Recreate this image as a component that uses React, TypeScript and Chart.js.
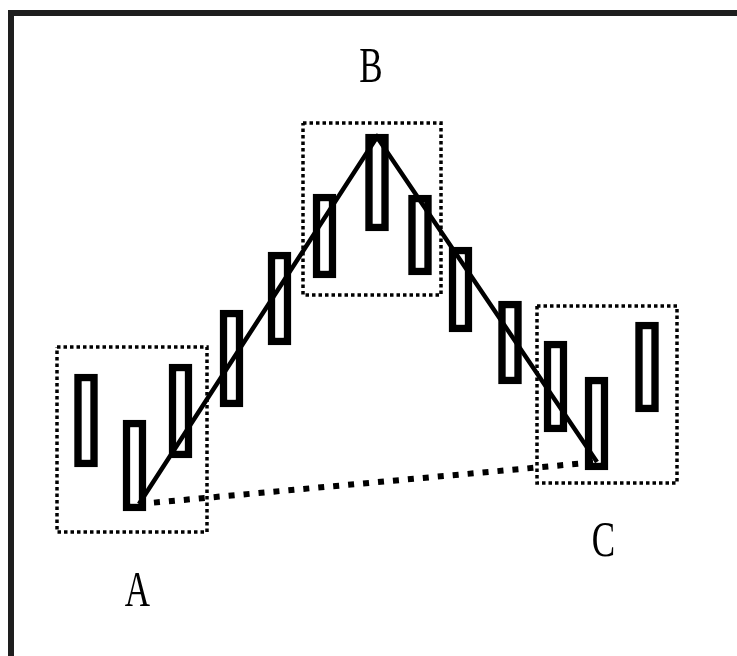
import React, { useEffect, useRef } from "react";
import { Chart, registerables } from "chart.js";

Chart.register(...registerables);

// Candle positions (time units) and price ranges
const candleX = [8.6, 13.45, 18.05, 23.15, 27.95, 32.45, 37.7, 42.0, 46.05, 51.0, 55.55, 59.65, 64.7];
const candleHigh = [28.2, 23.6, 29.2, 34.6, 40.4, 46.2, 52.2, 46.1, 40.9, 35.5, 31.5, 27.9, 33.4];
const candleLow = [18.9, 14.5, 19.8, 24.9, 31.1, 37.8, 42.5, 38.1, 32.4, 27.2, 22.4, 18.6, 24.4];

// Swing pivots A, B, C
const pivotNames = ["A", "B", "C"];
const pivotX = [13.9, 37.7, 59.7];
const pivotY = [15.2, 51.9, 19.4];

// Zones around pivots
const zoneXMin = [5.7, 30.3, 53.7];
const zoneXMax = [20.7, 44.1, 67.7];
const zoneYMin = [12.4, 36.1, 17.3];
const zoneYMax = [30.9, 53.3, 35.0];

// Label anchors
const labelX = [13.75, 37.1, 60.35];
const labelY = [5.0, 57.4, 10.0];

const X_MAX = 73.7;
const Y_MAX = 65.6;

const framePlugin = {
  id: "frame",
  afterDraw(chart: any) {
    const ctx = chart.ctx;
    ctx.save();
    ctx.fillStyle = "#1e1e1e";
    ctx.fillRect(8, 10, chart.width - 8, 6);
    ctx.fillRect(8, 10, 6, chart.height - 10);
    ctx.restore();
  },
};

const labelPlugin = {
  id: "pivotLabels",
  afterDatasetsDraw(chart: any) {
    const ctx = chart.ctx;
    const xs = chart.scales.x;
    const ys = chart.scales.y;
    ctx.save();
    ctx.fillStyle = "#000";
    ctx.font = "50px 'Liberation Serif', serif";
    ctx.textAlign = "center";
    ctx.textBaseline = "alphabetic";
    pivotNames.forEach((name, i) => {
      const px = xs.getPixelForValue(labelX[i]);
      const py = ys.getPixelForValue(labelY[i]);
      ctx.save();
      ctx.translate(px, py);
      ctx.scale(0.7, 1);
      ctx.fillText(name, 0, 0);
      ctx.restore();
    });
    ctx.restore();
  },
};

export default function App() {
  const ref = useRef<HTMLCanvasElement>(null);

  useEffect(() => {
    if (!ref.current) return;

    const candleData = candleX.map((x, i) => ({ x, y: [candleLow[i], candleHigh[i]] }));
    const swingData = pivotX.map((x, i) => ({ x, y: pivotY[i] }));
    const baseData = [
      { x: pivotX[0], y: pivotY[0] },
      { x: pivotX[2], y: pivotY[2] },
    ];
    const zoneDatasets = zoneXMin.map((x0, i) => ({
      type: "line" as const,
      label: "zone " + pivotNames[i],
      data: [
        { x: x0, y: zoneYMax[i] },
        { x: zoneXMax[i], y: zoneYMax[i] },
        { x: zoneXMax[i], y: zoneYMin[i] },
        { x: x0, y: zoneYMin[i] },
        { x: x0, y: zoneYMax[i] },
      ],
      borderColor: "#000",
      borderWidth: 3.5,
      borderDash: [3.5, 3],
      pointRadius: 0,
      tension: 0,
      fill: false,
      order: 1,
    }));

    const chart = new Chart(ref.current, {
      type: "bar",
      data: {
        datasets: [
          {
            type: "bar" as const,
            label: "candles",
            data: candleData as any,
            backgroundColor: "#fff",
            borderColor: "#000",
            borderWidth: 7.5,
            borderSkipped: false,
            barThickness: 23,
            order: 3,
          },
          ...zoneDatasets,
          {
            type: "line" as const,
            label: "A-C",
            data: baseData,
            borderColor: "#000",
            borderWidth: 6,
            borderDash: [6, 9],
            pointRadius: 0,
            tension: 0,
            fill: false,
            order: 2,
          },
          {
            type: "line" as const,
            label: "A-B-C",
            data: swingData,
            borderColor: "#000",
            borderWidth: 4.5,
            borderJoinStyle: "miter",
            pointRadius: 0,
            tension: 0,
            fill: false,
            order: 0,
          },
        ] as any,
      },
      options: {
        animation: false,
        responsive: false,
        events: [],
        layout: { padding: 0 },
        plugins: {
          legend: { display: false },
          tooltip: { enabled: false },
          title: { display: false },
        },
        scales: {
          x: { type: "linear", min: 0, max: X_MAX, display: false, offset: false },
          y: { type: "linear", min: 0, max: Y_MAX, display: false },
        },
      },
      plugins: [framePlugin, labelPlugin],
    });

    return () => chart.destroy();
  }, []);

  return (
    <div style={{ position: "absolute", left: 0, top: 0, width: 737, height: 656, background: "#fff" }}>
      <canvas ref={ref} width={737} height={656} style={{ display: "block" }} />
    </div>
  );
}
